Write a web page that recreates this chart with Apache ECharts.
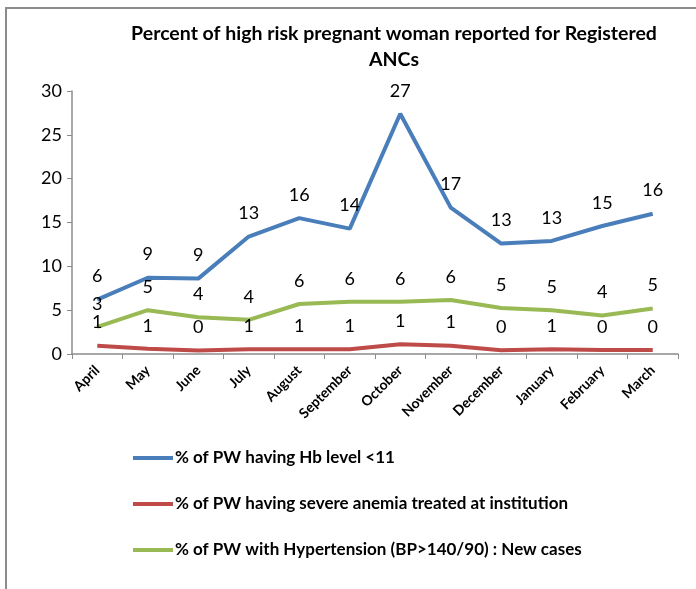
<!DOCTYPE html>
<html>
<head>
<meta charset="utf-8">
<script src="https://cdn.jsdelivr.net/npm/echarts@6/dist/echarts.min.js"></script>
<style>
  html, body { margin: 0; padding: 0; background: #fff; }
  #chart { width: 696px; height: 589px; }
</style>
</head>
<body>
<div id="chart"></div>
<script>
var months = ['April', 'May', 'June', 'July', 'August', 'September', 'October',
              'November', 'December', 'January', 'February', 'March'];
var hbLow = [6.2, 8.7, 8.6, 13.4, 15.5, 14.3, 27.4, 16.7, 12.6, 12.9, 14.6, 16.0];
var severeAnemia = [0.95, 0.6, 0.4, 0.55, 0.55, 0.55, 1.1, 0.95, 0.42, 0.55, 0.45, 0.45];
var hypertension = [3.1, 5.0, 4.2, 3.9, 5.7, 5.95, 5.95, 6.15, 5.25, 5.0, 4.4, 5.2];
var yTicks = [0, 5, 10, 15, 20, 25, 30];

var seriesNames = [
    '% of PW having Hb level <11',
    '% of PW having severe anemia treated at institution',
    '% of PW with Hypertension (BP>140/90) : New cases'
];
var colors = ['#4a7ebb', '#be4b48', '#98b954'];
var font = 'Lato, "Open Sans", sans-serif';

function lineSeries(name, data, color) {
    return {
        name: name,
        type: 'line',
        data: data,
        symbol: 'circle',
        symbolSize: 0.1,
        showSymbol: true,
        lineStyle: { width: 4, color: color },
        itemStyle: { color: color },
        label: {
            show: true,
            position: 'top',
            distance: 14,
            fontFamily: font,
            fontSize: 18,
            color: '#000',
            formatter: function (p) { return Math.round(p.value); }
        }
    };
}

var chart = echarts.init(document.getElementById('chart'));
chart.setOption({
    animation: false,
    color: colors,
    title: {
        text: 'Percent of high risk pregnant woman reported for Registered\nANCs',
        left: 389,
        top: 16,
        textAlign: 'center',
        textStyle: { fontFamily: font, fontSize: 19.5, fontWeight: 'bold', color: '#000', lineHeight: 26 }
    },
    graphic: [
        { type: 'line', shape: { x1: 5, y1: 8, x2: 696, y2: 8 }, style: { stroke: '#8c8c8c', lineWidth: 2 } },
        { type: 'line', shape: { x1: 6, y1: 8, x2: 6, y2: 589 }, style: { stroke: '#8c8c8c', lineWidth: 2 } }
    ],
    legend: {
        orient: 'vertical',
        left: 133,
        top: 446,
        padding: 0,
        itemWidth: 40,
        itemHeight: 4,
        itemGap: 22,
        icon: 'rect',
        textStyle: { fontFamily: font, fontSize: 17, fontWeight: 'bold', color: '#000', lineHeight: 24, padding: [0, 0, 0, -3] },
        data: seriesNames
    },
    grid: { left: 72, right: 18, top: 91, bottom: 235, containLabel: false },
    xAxis: {
        type: 'category',
        data: months,
        boundaryGap: true,
        axisLine: { lineStyle: { color: '#8c8c8c', width: 1.5 } },
        axisTick: { show: true, length: 5, alignWithLabel: false, lineStyle: { color: '#8c8c8c' } },
        axisLabel: {
            rotate: 45,
            interval: 0,
            fontFamily: font,
            fontSize: 14,
            fontWeight: 'bold',
            color: '#000',
            margin: 14
        }
    },
    yAxis: {
        type: 'value',
        min: yTicks[0],
        max: yTicks[yTicks.length - 1],
        interval: 5,
        splitLine: { show: false },
        axisLine: { show: true, lineStyle: { color: '#8c8c8c', width: 1.5 } },
        axisTick: { show: true, length: 5, lineStyle: { color: '#8c8c8c' } },
        axisLabel: { fontFamily: font, fontSize: 18, color: '#000', margin: 10 }
    },
    series: [
        lineSeries(seriesNames[0], hbLow, colors[0]),
        lineSeries(seriesNames[1], severeAnemia, colors[1]),
        lineSeries(seriesNames[2], hypertension, colors[2])
    ]
});
</script>
</body>
</html>
